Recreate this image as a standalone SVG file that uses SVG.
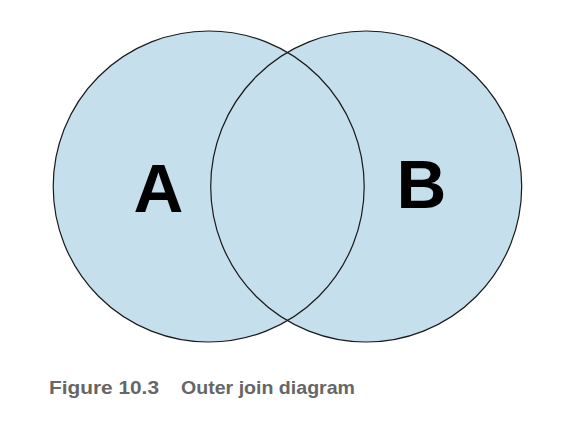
<svg xmlns="http://www.w3.org/2000/svg" width="563" height="432" viewBox="0 0 563 432">
<style>
.set{fill:#c6dfed;fill-opacity:1;stroke:none}
.edge{fill:none;stroke:#1a1a1a;stroke-width:1.2}
.lbl{font-family:"Liberation Sans",Arial,sans-serif;font-weight:bold;font-size:69px;fill:#000;text-anchor:middle}
.cap{font-family:"Liberation Sans",Arial,sans-serif;font-weight:bold;font-size:18.5px;fill:#666}
</style>
<rect width="563" height="432" fill="#fff"/>
<g id="A">
<circle class="set" cx="208.7" cy="186.5" r="155.5"/>
</g>
<g id="B">
<circle class="set" cx="366.2" cy="186.5" r="155.5"/>
</g>
<g id="outlines">
<circle class="edge" cx="208.7" cy="186.5" r="155.5"/>
<circle class="edge" cx="366.2" cy="186.5" r="155.5"/>
</g>
<g id="labels">
<text class="lbl" x="158.5" y="212">A</text>
<text class="lbl" x="421.5" y="208">B</text>
</g>
<g id="caption">
<text class="cap" x="49" y="394" textLength="110" lengthAdjust="spacingAndGlyphs">Figure 10.3</text>
<text class="cap" x="181" y="394" textLength="174" lengthAdjust="spacingAndGlyphs">Outer join diagram</text>
</g>
</svg>
